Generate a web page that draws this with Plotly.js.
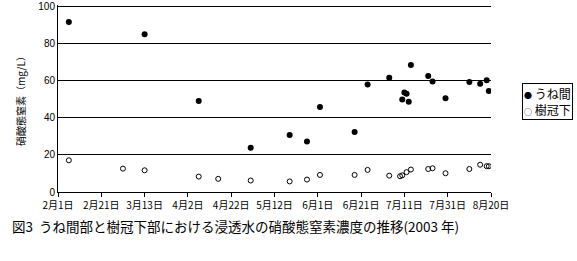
<!DOCTYPE html>
<html><head><meta charset="utf-8">
<script src="https://cdn.plot.ly/plotly-3.0.1.min.js"></script>
<style>body{margin:0;background:#fff}#c{width:577px;height:261px}</style>
</head><body><div id="c"></div>
<script>
var uneDates = ["2003-02-06","2003-03-13","2003-04-07","2003-05-01","2003-05-19","2003-05-27","2003-06-02","2003-06-18","2003-06-24","2003-07-04","2003-07-10","2003-07-11","2003-07-12","2003-07-13","2003-07-14","2003-07-22","2003-07-24","2003-07-30","2003-08-10","2003-08-15","2003-08-18","2003-08-19"];
var uneValues = [91.7,85.1,49.0,23.8,30.7,27.2,45.8,32.3,57.9,61.6,49.9,53.7,53.0,48.6,68.5,62.5,59.5,50.6,59.3,58.3,60.2,54.5];
var jukanDates = ["2003-02-06","2003-03-03","2003-03-13","2003-04-07","2003-04-16","2003-05-01","2003-05-19","2003-05-27","2003-06-02","2003-06-18","2003-06-24","2003-07-04","2003-07-09","2003-07-10","2003-07-12","2003-07-14","2003-07-22","2003-07-24","2003-07-30","2003-08-10","2003-08-15","2003-08-18","2003-08-19"];
var jukanValues = [17.1,12.6,11.7,8.3,7.1,6.2,5.7,6.7,9.2,9.2,11.9,8.8,8.5,9.0,10.7,12.1,12.4,12.8,10.1,12.4,14.7,13.9,13.9];
var seriesNames = ["うね間","樹冠下"];
var yTitle = "硝酸態窒素（mg/L）";
var caption = "図3  うね間部と樹冠下部における浸透水の硝酸態窒素濃度の推移(2003 年)";

var font = "'Noto Sans CJK JP', 'Noto Sans', sans-serif";
var traces = [
  {x: uneDates, y: uneValues, name: seriesNames[0], type: "scatter", mode: "markers",
   marker: {symbol: "circle", size: 6, color: "#000"}},
  {x: jukanDates, y: jukanValues, name: seriesNames[1], type: "scatter", mode: "markers",
   marker: {symbol: "circle-open", size: 5, color: "#000", line: {width: 1, color: "#000"}}}
];
var layout = {
  width: 577, height: 261,
  margin: {l: 58, r: 86, t: 5, b: 69},
  paper_bgcolor: "#fff", plot_bgcolor: "#fff",
  font: {family: font, size: 10, color: "#000"},
  showlegend: false,
  xaxis: {type: "date", range: ["2003-02-01", "2003-08-20"], tick0: "2003-02-01",
    dtick: 20 * 86400000, tickformat: "%-m月%-d日", showgrid: false,
    showline: true, linecolor: "#000", linewidth: 1, ticks: "outside", ticklen: 4,
    tickcolor: "#000", tickfont: {size: 10}, zeroline: false, ticklabeloverflow: "allow"},
  yaxis: {range: [0, 100.8], tick0: 0, dtick: 20, showgrid: true, gridcolor: "#000", gridwidth: 1,
    showline: true, linecolor: "#000", linewidth: 1, ticks: "", zeroline: false,
    tickfont: {size: 10, family: "'Liberation Sans', Arial, sans-serif"}, ticklabeloverflow: "allow",
    title: {text: yTitle, font: {size: 10}, standoff: 10}},
  annotations: [
    {text: caption, xref: "paper", yref: "paper", x: -0.11, y: -0.12,
     xanchor: "left", yanchor: "top", showarrow: false, font: {size: 13.5, color: "#000"}},
    {text: "<span style='font-size:8px'>●</span> " + seriesNames[0] + "<br><span style='font-size:8px'>○</span> " + seriesNames[1],
     xref: "paper", yref: "paper", x: 1.072, y: 0.585, xanchor: "left", yanchor: "top",
     align: "left", showarrow: false, bordercolor: "#000", borderwidth: 1, borderpad: 1,
     bgcolor: "#fff", font: {size: 12, color: "#000"}}
  ]
};
Plotly.newPlot("c", traces, layout, {staticPlot: true, displayModeBar: false});
</script></body></html>
